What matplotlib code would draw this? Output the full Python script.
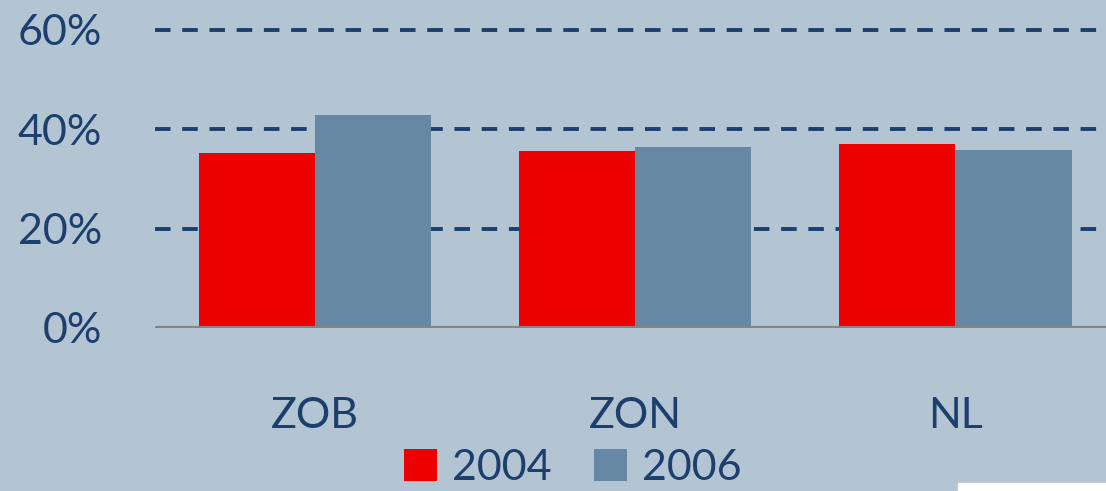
import matplotlib
matplotlib.use("Agg")
import matplotlib.pyplot as plt
from matplotlib.patches import Rectangle
import numpy as np

regions = ["ZOB", "ZON", "NL"]
years = ["2004", "2006"]
share_2004 = [35.2, 35.6, 37.0]
share_2006 = [42.8, 36.4, 35.8]
yticks = [0, 20, 40, 60]

bg = "#b3c5d3"
text_col = "#1d3f6e"
red = "#ec0000"
blue = "#6688a5"

plt.rcParams["font.family"] = ["Lato", "DejaVu Sans"]

fig = plt.figure(figsize=(11.06, 4.91), dpi=100, facecolor=bg)
ax = fig.add_axes([0.140, 0.332, 0.860, 0.607], facecolor=bg)

x = np.arange(len(regions))
w = 0.3625
ax.bar(x - w / 2, share_2004, w, color=red, label=years[0], zorder=3)
ax.bar(x + w / 2, share_2006, w, color=blue, label=years[1], zorder=3)

ax.set_xlim(-0.5, 2.47)
ax.set_ylim(0, 60)
ax.set_yticks(yticks)
ax.set_yticklabels([f"{v}%" for v in yticks])
ax.set_xticks(x)
ax.set_xticklabels(regions)

for v in yticks[1:]:
    ax.axhline(v, color=text_col, linestyle=(0, (4, 3)), linewidth=2.8,
               zorder=1, clip_on=False)
ax.axhline(0, color="#848484", linewidth=3, zorder=4)

for s in ax.spines.values():
    s.set_visible(False)
ax.tick_params(axis="both", length=0, labelsize=31, colors=text_col)
ax.tick_params(axis="y", pad=38)
ax.tick_params(axis="x", pad=50)

handles, labels = ax.get_legend_handles_labels()
fig.legend(handles, labels, loc="center", bbox_to_anchor=(0.518, 0.047), ncol=2,
           frameon=False, fontsize=31, labelcolor=text_col, handlelength=0.75,
           handleheight=0.75, handletextpad=0.35, columnspacing=1.0,
           borderaxespad=0, borderpad=0)

# white strip in the lower right corner
fig.add_artist(Rectangle((958 / 1106, 0), 1 - 958 / 1106, 8 / 491,
                         transform=fig.transFigure, color="white", zorder=10))

fig.savefig("out.png", dpi=100, facecolor=bg)
